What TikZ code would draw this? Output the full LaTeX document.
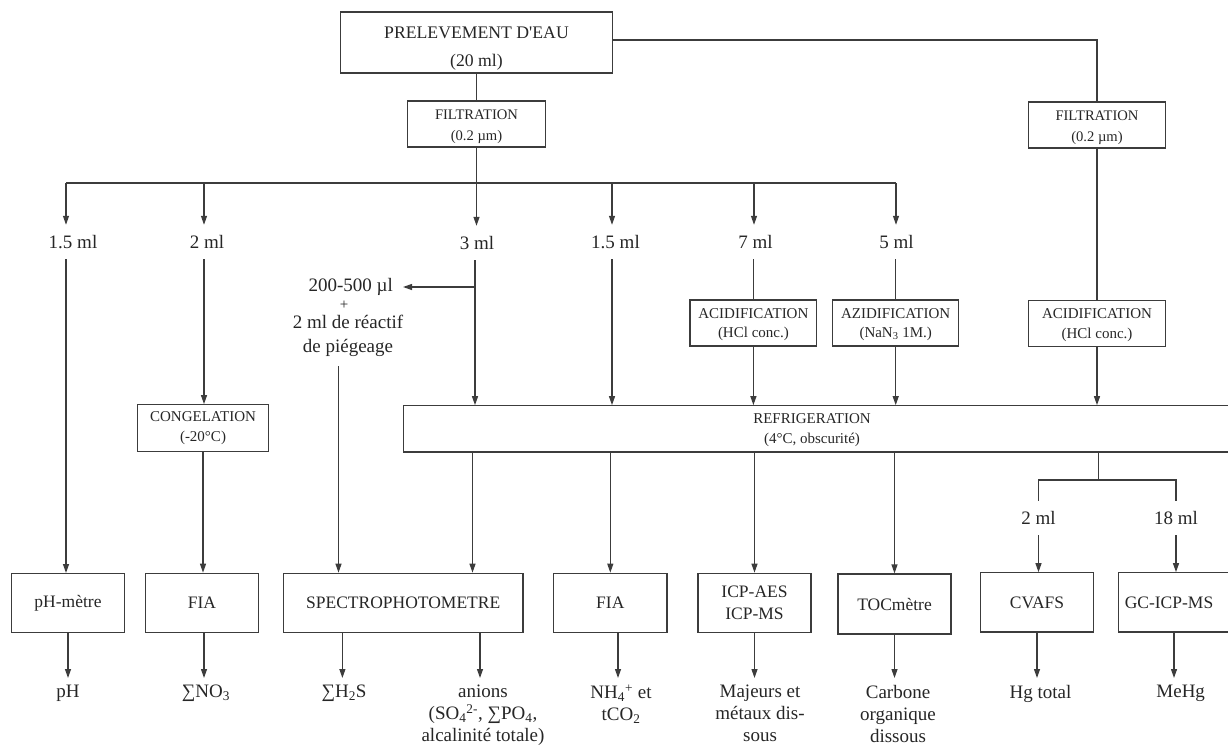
\documentclass[tikz,border=0pt]{standalone}
\usepackage{fontspec}
\setmainfont{Liberation Serif}
\usetikzlibrary{arrows.meta}
\definecolor{lc}{HTML}{3C3C3C}
\definecolor{tc}{HTML}{262626}
\begin{document}
\begin{tikzpicture}[x=1pt,y=-1pt,
  line/.style={draw=lc, line width=1.2pt},
  arr/.style={line, -{Triangle[length=9pt,width=6pt]}},
  box/.style={draw=lc, line width=1.2pt, inner sep=0pt, align=center, text=tc},
  sbox/.style={box, font=\fontsize{15}{19.5}\selectfont},
  bbox/.style={box, font=\fontsize{17.5}{22}\selectfont},
  stxt/.style={inner sep=0pt, align=center, text=tc, font=\fontsize{15}{19.5}\selectfont},
  lab/.style={inner sep=0pt, minimum height=34pt, text=tc, font=\fontsize{19}{22}\selectfont},
  outl/.style={anchor=north, inner xsep=0pt, inner ysep=7pt, align=center, text=tc, font=\fontsize{19}{22}\selectfont}]
\useasboundingbox (0,0) rectangle (1228,747);
\clip (0,0) rectangle (1228,747);

% top
\node[box, minimum width=272pt, minimum height=61pt, font=\fontsize{17.7}{28.4}\selectfont] (prel) at (476.5,42.4) {\rule{0pt}{24pt}PRELEVEMENT D\textquotesingle EAU\\(20 ml)};
\node[box, minimum width=138pt, minimum height=46pt, font=\fontsize{14.6}{20.5}\selectfont] (f1) at (476.5,124) {\rule{0pt}{15pt}FILTRATION\\(0.2 µm)};
\node[box, minimum width=137.5pt, minimum height=46pt, font=\fontsize{14.6}{20.5}\selectfont] (f2) at (1097,125) {\rule{0pt}{15pt}FILTRATION\\(0.2 µm)};
\draw[line] (prel) -- (f1);
\draw[line] (prel.east |- 0,40) -| (f2.north);

\coordinate (b1) at (66,183);
\coordinate (b2) at (204,183);
\coordinate (b3) at (476.5,183);
\coordinate (b4) at (612,183);
\coordinate (b5) at (754,183);
\coordinate (b6) at (896,183);
\draw[line] (f1.south) -- (b3);
\draw[line] (b1) -- (b6);

\node[lab] (l1) at (73,242) {1.5 ml};
\node[lab] (l2) at (207,242) {2 ml};
\node[lab] (l3) at (477,243) {3 ml};
\node[lab] (l4) at (615.5,242) {1.5 ml};
\node[lab] (l5) at (755.6,242) {7 ml};
\node[lab] (l6) at (896.6,242) {5 ml};
\foreach \i in {1,...,6}{\draw[arr] (b\i) -- (b\i |- l\i.north);}

% second level
\node[sbox, minimum width=131.4pt, minimum height=46.6pt] (cong) at (203,428) {CONGELATION\\(-20°C)};
\node[sbox, minimum width=126.7pt, minimum height=46pt] (ac1) at (753.4,323) {\rule{0pt}{13pt}ACIDIFICATION\\(HCl conc.)};
\node[sbox, minimum width=126pt, minimum height=46pt] (az) at (895.7,323) {\rule{0pt}{13pt}AZIDIFICATION\\(NaN\textsubscript{3} 1M.)};
\node[sbox, minimum width=137.5pt, minimum height=46pt] (ac2) at (1097,323.7) {\rule{0pt}{13pt}ACIDIFICATION\\(HCl conc.)};

\node[box, minimum width=840pt, minimum height=46.3pt, anchor=west] (refr) at (402.5,428.9) {};
\node[stxt] (refrt) at (812,430) {REFRIGERATION\\(4°C, obscurité)};

% reagent
\coordinate (br) at (475,287);
\node[inner xsep=10pt, inner ysep=0pt, anchor=east, text=tc, font=\fontsize{19}{22}\selectfont] (rg1) at (403,287) {200-500 µl};
\node[inner sep=0pt, text=tc, font=\fontsize{15}{17}\selectfont] (pl) at (344,305) {+};
\node[inner sep=0pt, align=center, text=tc, font=\fontsize{19}{24}\selectfont] (rg2) at (348,336) {2 ml de réactif\\de piégeage};
\coordinate (rgc) at (338.5,366);

\draw[arr] (l1.south -| b1) -- (b1 |- 0,573);
\draw[arr] (l2.south -| b2) -- (b2 |- cong.north);
\draw[arr] (l3.south -| br) -- (br |- refr.north);
\draw[arr] (br) -- (rg1.east);
\draw[arr] (l4.south -| b4) -- (b4 |- refr.north);
\draw[line] (l5.south -| ac1.north) -- (ac1.north);
\draw[arr] (ac1.south) -- (ac1.south |- refr.north);
\draw[line] (l6.south -| az.north) -- (az.north);
\draw[arr] (az.south) -- (az.south |- refr.north);
\draw[line] (f2.south) -- (ac2.north);
\draw[arr] (ac2.south) -- (ac2.south |- refr.north);

% bottom boxes
\node[bbox, minimum width=113pt, minimum height=59.5pt] (phm) at (68,603) {pH-mètre};
\node[bbox, minimum width=112.7pt, minimum height=59.5pt] (fia1) at (202,603) {FIA};
\node[bbox, minimum width=239.5pt, minimum height=59.5pt] (sp) at (403.2,603) {SPECTROPHOTOMETRE};
\node[bbox, minimum width=113.4pt, minimum height=59.5pt] (fia2) at (610.3,603) {FIA};
\node[bbox, minimum width=113pt, minimum height=59.5pt] (icp) at (754.5,603) {ICP-AES\\ICP-MS};
\node[bbox, minimum width=113pt, minimum height=60pt] (toc) at (894.5,604) {TOCmètre};
\node[bbox, minimum width=113pt, minimum height=59.3pt] (cv) at (1037,602.4) {CVAFS};
\node[box, minimum width=130pt, minimum height=59.3pt, anchor=west] (gc) at (1117.8,602.4) {};
\node[inner sep=0pt, text=tc, font=\fontsize{17.5}{22}\selectfont] (gct) at (1169,602.4) {GC-ICP-MS};

\draw[arr] (cong.south) -- (cong.south |- fia1.north);
\draw[arr] (rgc) -- (rgc |- sp.north);
\coordinate (sx) at (472.5,0);
\draw[arr] (refr.south -| sx) -- (sx |- sp.north);
\draw[arr] (refr.south -| fia2.north) -- (fia2.north);
\draw[arr] (refr.south -| icp.north) -- (icp.north);
\draw[arr] (refr.south -| toc.north) -- (toc.north);

% Hg branch
\coordinate (hb) at (1098.6,480);
\node[lab] (l7) at (1038.5,518) {2 ml};
\node[lab] (l8) at (1176,518) {18 ml};
\draw[line] (refr.south -| hb) -- (hb);
\draw[line] (l7.north) -- (l7.north |- hb) -- (l8.north |- hb) -- (l8.north);
\draw[arr] (l7.south) -- (l7.south |- cv.north);
\draw[arr] (l8.south) -- (l8.south |- gc.north);

% outputs
\node[outl] (o1) at (68,678) {pH};
\node[outl] (o2) at (206,678) {∑NO\textsubscript{3}};
\node[outl] (o3) at (344,678) {∑H\textsubscript{2}S};
\node[outl] (o4) at (483,678) {anions\\(SO\textsubscript{4}\textsuperscript{2-}, ∑PO\textsubscript{4},\\alcalinité totale)};
\node[outl] (o5) at (621,678) {NH\textsubscript{4}\textsuperscript{+} et\\tCO\textsubscript{2}};
\node[outl] (o6) at (760,678) {Majeurs et\\métaux dis-\\sous};
\node[outl] (o7) at (898,678) {Carbone\\organique\\dissous};
\node[outl] (o8) at (1040.5,678) {Hg total};
\node[outl] (o9) at (1180.7,678) {MeHg};

\coordinate (sa) at (342.4,0);
\coordinate (sb) at (480,0);
\coordinate (fx) at (618,0);
\coordinate (gx) at (1174,0);
\draw[arr] (phm.south) -- (phm.south |- o1.north);
\draw[arr] (fia1.south -| b2) -- (b2 |- o2.north);
\draw[arr] (sp.south -| sa) -- (sa |- o3.north);
\draw[arr] (sp.south -| sb) -- (sb |- o4.north);
\draw[arr] (fia2.south -| fx) -- (fx |- o5.north);
\draw[arr] (icp.south) -- (icp.south |- o6.north);
\draw[arr] (toc.south) -- (toc.south |- o7.north);
\draw[arr] (cv.south) -- (cv.south |- o8.north);
\draw[arr] (gc.south -| gx) -- (gx |- o9.north);
\end{tikzpicture}
\end{document}
